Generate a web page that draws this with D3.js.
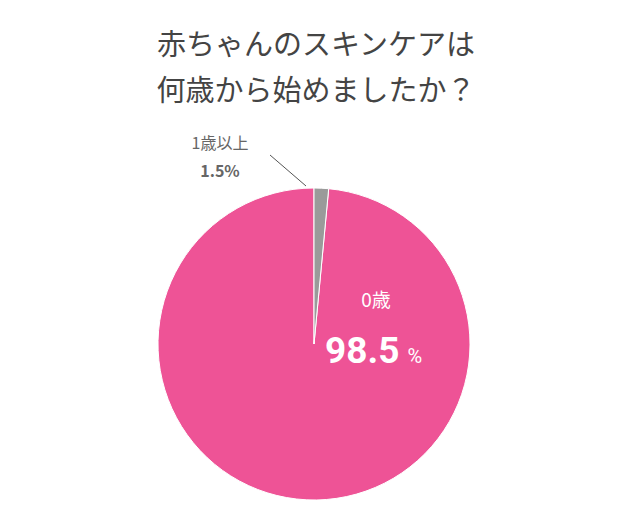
<!DOCTYPE html>
<html><head><meta charset="utf-8">
<script src="https://cdn.jsdelivr.net/npm/d3@7"></script>
<style>body{margin:0;background:#fff}svg{display:block;font-family:"Noto Sans CJK JP","Noto Sans",sans-serif}</style>
</head><body>
<svg width="640" height="514"></svg>
<script>
var labels = ["0歳", "1歳以上"];
var values = [98.5, 1.5];
var colors = ["#ee5396", "#9a9a9a"];
var titleLines = ["赤ちゃんのスキンケアは", "何歳から始めましたか？"];

var svg = d3.select("svg");
var cx = 314, cy = 344, r = 156;

svg.selectAll("text.title").data(titleLines).join("text")
  .attr("x", 316).attr("y", (d, i) => 55 + i * 46)
  .attr("text-anchor", "middle").attr("font-size", 29).attr("fill", "#444")
  .text(d => d);

var pie = d3.pie().sort(null).value(d => d)
  .startAngle(0).endAngle(-2 * Math.PI);
var arcs = pie(values);
var arc = d3.arc().innerRadius(0).outerRadius(r);

var g = svg.append("g").attr("transform", "translate(" + cx + "," + cy + ")");
g.selectAll("path").data(arcs).join("path")
  .attr("d", arc)
  .attr("fill", (d, i) => colors[i])
  .attr("stroke", "#fff").attr("stroke-width", 1);

// leader line for the small slice
svg.append("line").attr("x1", 270).attr("y1", 155).attr("x2", 306).attr("y2", 186)
  .attr("stroke", "#555").attr("stroke-width", 1);
svg.append("text").attr("x", 220).attr("y", 149).attr("text-anchor", "middle")
  .attr("font-size", 16).attr("fill", "#666").text(labels[1]);
svg.append("text").attr("x", 220).attr("y", 177).attr("text-anchor", "middle")
  .attr("font-size", 16).attr("font-weight", "bold").attr("fill", "#666").text(values[1] + "%");

svg.append("text").attr("x", 376).attr("y", 307).attr("text-anchor", "middle")
  .attr("font-size", 19).attr("fill", "#fff").text(labels[0]);
var t = svg.append("text").attr("x", 325).attr("y", 363).attr("fill", "#fff")
  .attr("font-family", "Roboto,sans-serif");
t.append("tspan").attr("font-size", 37).attr("font-weight", "bold").text(values[0]);
t.append("tspan").attr("font-size", 20).attr("dx", 8).text("%");
</script>
</body></html>
